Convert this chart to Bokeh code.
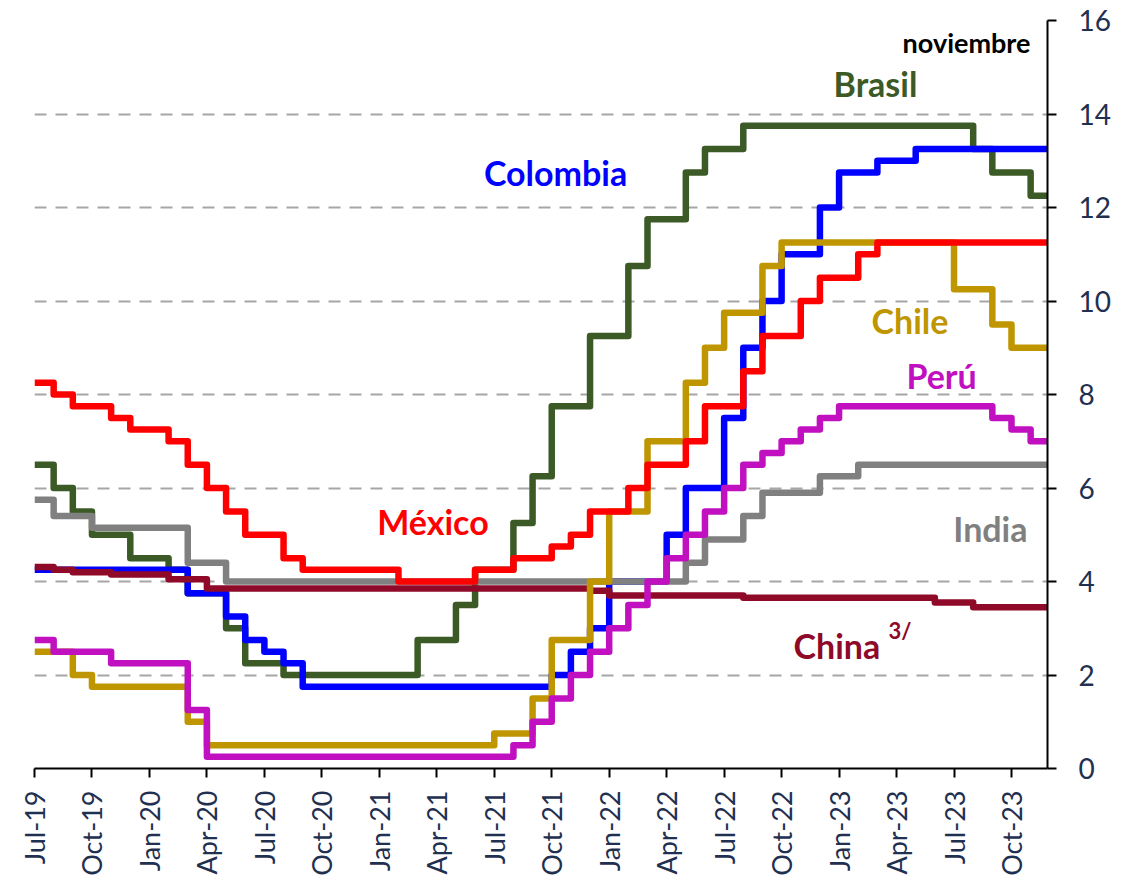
import math
from bokeh.plotting import figure
from bokeh.models import Range1d, FixedTicker, Label
from bokeh.embed import file_html
from bokeh.resources import INLINE

# ---------------- data (month index 0 = Jul-19 ... 52 = Nov-23) ----------------
tick_positions = [0, 3, 6, 9, 12, 15, 18, 21, 24, 27, 30, 33, 36, 39, 42, 45, 48, 51]
tick_labels = ["Jul-19", "Oct-19", "Jan-20", "Apr-20", "Jul-20", "Oct-20", "Jan-21",
               "Apr-21", "Jul-21", "Oct-21", "Jan-22", "Apr-22", "Jul-22", "Oct-22",
               "Jan-23", "Apr-23", "Jul-23", "Oct-23"]
y_ticks = [0, 2, 4, 6, 8, 10, 12, 14, 16]

brasil = [6.50, 6.00, 5.50, 5.00, 5.00, 4.50, 4.50, 4.25, 3.75, 3.75, 3.00, 2.25, 2.25,
          2.00, 2.00, 2.00, 2.00, 2.00, 2.00, 2.00,
          2.75, 2.75, 3.50, 4.25, 4.25, 5.25, 6.25, 7.75, 7.75, 9.25, 9.25, 10.75, 11.75,
          11.75, 12.75, 13.25, 13.25,
          13.75, 13.75, 13.75, 13.75, 13.75, 13.75, 13.75, 13.75, 13.75, 13.75, 13.75, 13.75,
          13.25, 12.75, 12.75, 12.25]

colombia = [4.25, 4.25, 4.25, 4.25, 4.25, 4.25, 4.25, 4.25, 3.75, 3.75, 3.25, 2.75, 2.50, 2.25,
            1.75, 1.75, 1.75, 1.75, 1.75, 1.75, 1.75, 1.75, 1.75, 1.75, 1.75, 1.75, 1.75,
            2.00, 2.50, 3.00, 4.00, 4.00, 4.00, 5.00, 6.00, 6.00, 7.50, 9.00, 10.00, 11.00,
            11.00, 12.00, 12.75, 12.75, 13.00, 13.00,
            13.25, 13.25, 13.25, 13.25, 13.25, 13.25, 13.25]

india = [5.75, 5.40, 5.40, 5.15, 5.15, 5.15, 5.15, 5.15, 4.40, 4.40,
         4.00, 4.00, 4.00, 4.00, 4.00, 4.00, 4.00, 4.00, 4.00, 4.00, 4.00, 4.00,
         4.00, 4.00, 4.00, 4.00, 4.00, 4.00, 4.00, 4.00, 4.00, 4.00, 4.00, 4.00,
         4.40, 4.90, 4.90, 5.40, 5.90, 5.90, 5.90, 6.25, 6.25,
         6.50, 6.50, 6.50, 6.50, 6.50, 6.50, 6.50, 6.50, 6.50, 6.50]

china = [4.31, 4.25, 4.20, 4.20, 4.15, 4.15, 4.15, 4.05, 4.05,
         3.85, 3.85, 3.85, 3.85, 3.85, 3.85, 3.85, 3.85, 3.85, 3.85,
         3.85, 3.85, 3.85, 3.85, 3.85, 3.85, 3.85, 3.85, 3.85, 3.85, 3.80,
         3.70, 3.70, 3.70, 3.70, 3.70, 3.70, 3.70,
         3.65, 3.65, 3.65, 3.65, 3.65, 3.65, 3.65, 3.65, 3.65, 3.65,
         3.55, 3.55, 3.45, 3.45, 3.45, 3.45]

chile = [2.50, 2.50, 2.00, 1.75, 1.75, 1.75, 1.75, 1.75, 1.00,
         0.50, 0.50, 0.50, 0.50, 0.50, 0.50, 0.50, 0.50, 0.50, 0.50, 0.50, 0.50, 0.50,
         0.50, 0.50,
         0.75, 0.75, 1.50, 2.75, 2.75, 4.00, 5.50, 5.50, 7.00, 7.00, 8.25, 9.00, 9.75,
         9.75, 10.75,
         11.25, 11.25, 11.25, 11.25, 11.25, 11.25, 11.25, 11.25, 11.25,
         10.25, 10.25, 9.50, 9.00, 9.00]

mexico = [8.25, 8.00, 7.75, 7.75, 7.50, 7.25, 7.25, 7.00, 6.50, 6.00, 5.50, 5.00, 5.00, 4.50,
          4.25, 4.25, 4.25, 4.25, 4.25,
          4.00, 4.00, 4.00, 4.00,
          4.25, 4.25, 4.50, 4.50, 4.75, 5.00, 5.50, 5.50, 6.00, 6.50, 6.50, 7.00, 7.75, 7.75,
          8.50, 9.25, 9.25, 10.00, 10.50, 10.50, 11.00,
          11.25, 11.25, 11.25, 11.25, 11.25, 11.25, 11.25, 11.25, 11.25]

peru = [2.75, 2.50, 2.50, 2.50, 2.25, 2.25, 2.25, 2.25, 1.25,
        0.25, 0.25, 0.25, 0.25, 0.25, 0.25, 0.25, 0.25, 0.25, 0.25, 0.25, 0.25, 0.25,
        0.25, 0.25, 0.25,
        0.50, 1.00, 1.50, 2.00, 2.50, 3.00, 3.50, 4.00, 4.50, 5.00, 5.50, 6.00, 6.50,
        6.75, 7.00, 7.25, 7.50,
        7.75, 7.75, 7.75, 7.75, 7.75, 7.75, 7.75, 7.75,
        7.50, 7.25, 7.00]

X_END = 52.88  # data runs a little past the start of Nov-23

# drawing order: bottom -> top
series = [
    ("Brasil", brasil, "#3B5A26"),
    ("Colombia", colombia, "#0000FF"),
    ("India", india, "#808080"),
    ("China", china, "#8E0A28"),
    ("Chile", chile, "#BF9600"),
    ("México", mexico, "#FF0000"),
    ("Perú", peru, "#C010C0"),
]

FONT = "Lato"
AXIS_TXT = "#1F3050"

p = figure(frame_width=1013, frame_height=748,
           min_border_left=34, min_border_top=20, min_border_right=10, min_border_bottom=0,
           x_range=Range1d(0, X_END), y_range=Range1d(0, 16),
           y_axis_location="right",
           output_backend="svg", toolbar_location=None)
p.outline_line_color = None
p.background_fill_color = "white"
p.border_fill_color = "white"

for name, vals, col in series:
    xs = list(range(len(vals))) + [X_END]
    ys = list(vals) + [vals[-1]]
    p.step(xs, ys, mode="after", line_color=col, line_width=6.5, line_join="round")

# grid
p.xgrid.grid_line_color = None
p.ygrid.ticker = FixedTicker(ticks=y_ticks)
p.ygrid.grid_line_color = "#A6A6A6"
p.ygrid.grid_line_width = 2
p.ygrid.grid_line_dash = "12 9"

# axes
xa = p.xaxis[0]
xa.ticker = FixedTicker(ticks=tick_positions)
xa.major_label_overrides = {t: l for t, l in zip(tick_positions, tick_labels)}
xa.major_label_orientation = math.pi / 2
xa.major_label_text_font = FONT
xa.major_label_text_font_size = "27px"
xa.major_label_text_color = AXIS_TXT
xa.major_label_standoff = 13
xa.major_tick_out = 9
xa.major_tick_in = 0
xa.minor_tick_line_color = None
xa.axis_line_color = "black"
xa.axis_line_width = 2
xa.major_tick_line_color = "black"
xa.major_tick_line_width = 2

ya = p.yaxis[0]
ya.ticker = FixedTicker(ticks=y_ticks)
ya.major_label_text_font = FONT
ya.major_label_text_font_size = "28px"
ya.major_label_text_color = AXIS_TXT
ya.major_label_standoff = 22
ya.major_tick_out = 9
ya.major_tick_in = 0
ya.minor_tick_line_color = None
ya.axis_line_color = "black"
ya.axis_line_width = 2
ya.major_tick_line_color = "black"
ya.major_tick_line_width = 2

# annotations (series names)
labels = [
    ("Brasil", 43.9, 14.66, "center", "#3B5A26", "34px"),
    ("Colombia", 27.2, 12.75, "center", "#0000FF", "34px"),
    ("Chile", 45.7, 9.59, "center", "#BF9600", "34px"),
    ("Perú", 47.35, 8.41, "center", "#C010C0", "34px"),
    ("México", 20.8, 5.29, "center", "#FF0000", "34px"),
    ("India", 49.9, 5.14, "center", "#808080", "34px"),
    ("China", 39.62, 2.63, "left", "#8E0A28", "34px"),
    ("3/", 44.58, 2.95, "left", "#8E0A28", "22px"),
    ("noviembre", 51.99, 15.52, "right", "black", "27px"),
]
for txt, lx, ly, align, col, size in labels:
    p.add_layout(Label(x=lx, y=ly, text=txt, text_align=align, text_baseline="alphabetic",
                       text_color=col, text_font=FONT, text_font_style="bold",
                       text_font_size=size))

open("out.html", "w").write(file_html(p, INLINE))
